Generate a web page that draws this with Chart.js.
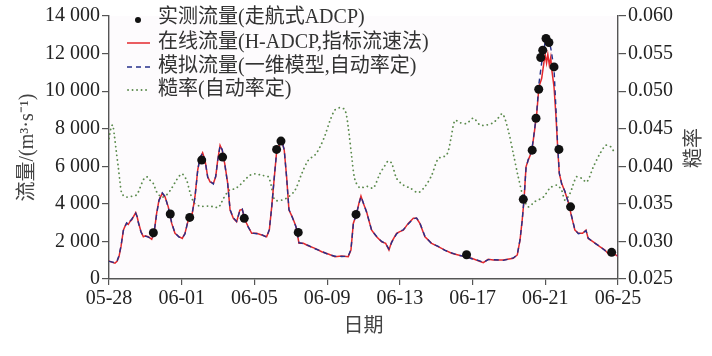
<!DOCTYPE html>
<html>
<head>
<meta charset="utf-8">
<script src="https://cdn.jsdelivr.net/npm/chart.js@4.4.1/dist/chart.umd.min.js"></script>
<style>
  html, body { margin: 0; padding: 0; background: #fff; }
  #c { display: block; }
</style>
</head>
<body>
<canvas id="c" width="712" height="356"></canvas>
<script>
// x values are days counted from 05-28
const dateLabels = ['05-28', '06-01', '06-05', '06-09', '06-13', '06-17', '06-21', '06-25'];

// online flow (H-ADCP) and model flow share the same time steps
const flowDays = [
  0, 0.15, 0.33, 0.45, 0.55, 0.66, 0.79, 0.9, 0.97, 1.06,
  1.15, 1.25, 1.34, 1.47, 1.55, 1.61, 1.76, 1.89, 2.0, 2.16,
  2.35, 2.42, 2.49, 2.62, 2.75, 2.93, 3.08, 3.26, 3.45, 3.63,
  3.85, 4.03, 4.18, 4.36, 4.58, 4.73, 4.88, 5.0, 5.15, 5.28,
  5.43, 5.56, 5.74, 5.87, 5.98, 6.11, 6.23, 6.38, 6.53, 6.66,
  6.84, 7.02, 7.2, 7.33, 7.48, 7.66, 7.85, 8.12, 8.4, 8.67,
  8.82, 8.95, 9.08, 9.22, 9.37, 9.5, 9.64, 9.77, 9.9, 10.08,
  10.29, 10.45, 10.69, 10.96, 11.33, 11.7, 12.06, 12.43, 12.8, 13.16,
  13.31, 13.44, 13.62, 13.75, 13.86, 13.99, 14.17, 14.3, 14.45, 14.72,
  15.0, 15.22, 15.4, 15.55, 15.82, 16.0, 16.19, 16.46, 16.74, 16.92,
  17.1, 17.38, 17.75, 18.11, 18.48, 18.85, 19.21, 19.58, 19.95, 20.31,
  20.59, 20.86, 21.14, 21.69, 22.24, 22.46, 22.61, 22.73, 22.83, 22.94,
  23.06, 23.25, 23.39, 23.53, 23.65, 23.8, 23.93, 24.0, 24.07, 24.14,
  24.22, 24.3, 24.35, 24.48, 24.59, 24.68, 24.77, 24.9, 25.08, 25.26,
  25.45, 25.63, 25.82, 26.05, 26.24, 26.36, 26.64, 27.0, 27.28, 27.52,
  27.74, 27.98
];
const onlineFlow = [
  960, 900, 840, 950, 1200, 1720, 2600, 2850, 2960, 2900,
  3050, 3150, 3310, 3530, 3300, 3050, 2520, 2250, 2300, 2250,
  2110, 2300, 2520, 3490, 4200, 4560, 4380, 3840, 2960, 2430,
  2250, 2160, 2430, 3140, 3490, 4380, 5800, 6420, 6720, 6330,
  5440, 5170, 5090, 5440, 6330, 7120, 6860, 6060, 5090, 3670,
  3230, 3050, 3670, 3700, 3140, 2780, 2430, 2430, 2340, 2250,
  2600, 3840, 5260, 6770, 7120, 7390, 6860, 5440, 3670, 3310,
  2780, 1900, 1900, 1770, 1630, 1450, 1330, 1190, 1220, 1190,
  1540, 2960, 3490, 4030, 4410, 4030, 3580, 3100, 2600, 2250,
  1980, 1900, 1540, 1980, 2430, 2520, 2600, 2960, 3230, 3230,
  2960, 2250, 1900, 1720, 1540, 1370, 1280, 1190, 1100, 975,
  870, 1050, 1010, 1010, 1100, 1280, 2070, 3140, 4200, 5970,
  6330, 6770, 7750, 8810, 10230, 10670, 11560, 11900, 11500, 11950,
  11400, 11800, 11200, 10230, 8630, 7030, 5620, 5090, 4640, 4110,
  3310, 2600, 2430, 2430, 2600, 2160, 1980, 1720, 1540, 1280,
  1370, 1220
];
const modelFlow = [
  940, 910, 860, 980, 1250, 1760, 2580, 2820, 2990, 2920,
  3080, 3180, 3330, 3500, 3320, 3020, 2500, 2270, 2280, 2230,
  2130, 2280, 2560, 3450, 4180, 4580, 4400, 3800, 2990, 2450,
  2230, 2180, 2400, 3170, 3520, 4350, 5780, 6450, 6700, 6350,
  5410, 5200, 5060, 5470, 6300, 7100, 6880, 6030, 5050, 3700,
  3250, 3070, 3640, 3720, 3160, 2760, 2450, 2410, 2360, 2230,
  2640, 3800, 5300, 6740, 7150, 7360, 6880, 5400, 3700, 3290,
  2760, 1930, 1880, 1790, 1610, 1470, 1310, 1210, 1200, 1210,
  1580, 2920, 3510, 4000, 4380, 4060, 3550, 3120, 2580, 2270,
  2000, 1880, 1600, 1950, 2400, 2540, 2620, 2930, 3200, 3250,
  2990, 2270, 1880, 1740, 1520, 1390, 1260, 1210, 1080, 990,
  890, 1030, 1030, 990, 1120, 1300, 2100, 3100, 4250, 5900,
  6350, 6800, 7800, 8900, 10400, 11500, 12200, 12700, 12800, 12750,
  12550, 12300, 12000, 11200, 9000, 7150, 5650, 5060, 4670, 4090,
  3340, 2620, 2410, 2450, 2570, 2180, 1960, 1740, 1520, 1300,
  1340, 1240
];

// measured flow, moving-boat ADCP
const measDays = [2.44, 3.37, 4.44, 5.1, 6.25, 7.44, 9.22, 9.46, 10.41, 13.59, 19.67,
  22.79, 23.28, 23.49, 23.64, 23.75, 23.86, 24.04, 24.2, 24.48, 24.75, 25.39, 27.65];
const measFlow = [2460, 3460, 3280, 6330, 6490, 3230, 6900, 7340, 2480, 3440, 1290,
  4240, 6860, 8560, 10100, 11790, 12180, 12800, 12590, 11290, 6900, 3840, 1420];

// roughness (right axis)
const roughDays = [
  0, 0.1, 0.2, 0.3, 0.4, 0.51, 0.6, 0.7, 0.85, 0.97,
  1.25, 1.52, 1.7, 1.89, 2.05, 2.16, 2.3, 2.44, 2.62, 2.9,
  3.17, 3.45, 3.72, 3.9, 4.03, 4.15, 4.27, 4.45, 4.69, 5.0,
  5.46, 5.8, 6.01, 6.15, 6.29, 6.5, 6.66, 6.93, 7.2, 7.48,
  7.75, 8.03, 8.4, 8.76, 8.98, 9.13, 9.5, 9.86, 10.23, 10.6,
  10.96, 11.33, 11.61, 11.88, 12.16, 12.43, 12.71, 12.98, 13.16, 13.35,
  13.53, 13.81, 14.08, 14.26, 14.54, 14.9, 15.18, 15.36, 15.55, 15.82,
  16.19, 16.56, 17.01, 17.38, 17.75, 18.11, 18.57, 18.81, 19.03, 19.31,
  19.67, 20.04, 20.41, 20.77, 21.14, 21.4, 21.65, 21.96, 22.24, 22.51,
  22.79, 23.06, 23.43, 23.89, 24.26, 24.63, 24.9, 25.08, 25.36, 25.72,
  26.0, 26.28, 26.64, 27.01, 27.34, 27.6, 27.83
];
const roughness = [
  0.0437, 0.0450, 0.0455, 0.0440, 0.0420, 0.0399, 0.0380, 0.0364, 0.0360, 0.0359,
  0.0360, 0.0362, 0.0371, 0.0382, 0.0386, 0.0385, 0.0380, 0.0377, 0.0366, 0.0359,
  0.0362, 0.0371, 0.0382, 0.0388, 0.0390, 0.0386, 0.0382, 0.0366, 0.0351, 0.0347,
  0.0347, 0.0346, 0.0345, 0.0350, 0.0357, 0.0365, 0.0369, 0.0370, 0.0375, 0.0382,
  0.0388, 0.0390, 0.0388, 0.0386, 0.0368, 0.0355, 0.0355, 0.0359, 0.0368, 0.0390,
  0.0408, 0.0415, 0.0426, 0.0441, 0.0461, 0.0475, 0.0478, 0.0475, 0.0452, 0.0413,
  0.0382, 0.0371, 0.0373, 0.0373, 0.0371, 0.0390, 0.0401, 0.0407, 0.0404, 0.0384,
  0.0375, 0.0371, 0.0365, 0.0373, 0.0388, 0.0410, 0.0415, 0.0437, 0.0461, 0.0458,
  0.0457, 0.0464, 0.0455, 0.0455, 0.0458, 0.0464, 0.0470, 0.0448, 0.0417, 0.0386,
  0.0359, 0.0346, 0.0353, 0.0359, 0.0371, 0.0375, 0.0368, 0.0355, 0.0364, 0.0386,
  0.0384, 0.0379, 0.0399, 0.0417, 0.0428, 0.0426, 0.0417
];

const legendNames = ['实测流量(走航式ADCP)', '在线流量(H-ADCP,指标流速法)', '模拟流量(一维模型,自动率定)', '糙率(自动率定)'];

const serif = '"Liberation Serif", "Noto Sans CJK SC", serif';
const axisColor = '#555';
const red = '#e3282c';
const blue = '#26308a';
const green = '#5a8a4c';

function pts(xs, ys) {
  return xs.map((x, i) => ({ x: x, y: ys[i] }));
}

const bgPlugin = {
  id: 'bg',
  beforeDraw(chart) {
    const { ctx, chartArea: a } = chart;
    ctx.save();
    ctx.fillStyle = '#fff';
    ctx.fillRect(0, 0, chart.width, chart.height);
    ctx.fillStyle = '#fdfbfd';
    ctx.fillRect(a.left, a.top, a.right - a.left, a.bottom - a.top);
    ctx.restore();
  }
};

// legend box in the upper left and the right axis title
const legendPlugin = {
  id: 'boxLegend',
  afterDraw(chart) {
    const ctx = chart.ctx;
    const rows = [18, 43, 67, 90];
    ctx.save();
    // dot
    ctx.fillStyle = '#111';
    ctx.beginPath();
    ctx.arc(138, rows[0] + 2, 3, 0, Math.PI * 2);
    ctx.fill();
    // red line
    ctx.strokeStyle = red;
    ctx.lineWidth = 1.5;
    ctx.beginPath(); ctx.moveTo(127, rows[1]); ctx.lineTo(150, rows[1]); ctx.stroke();
    // blue dash
    ctx.strokeStyle = blue;
    ctx.setLineDash([5, 4]);
    ctx.beginPath(); ctx.moveTo(127, rows[2]); ctx.lineTo(150, rows[2]); ctx.stroke();
    // green dots
    ctx.strokeStyle = green;
    ctx.lineWidth = 1.8;
    ctx.lineCap = 'round';
    ctx.setLineDash([0.1, 4.4]);
    ctx.beginPath(); ctx.moveTo(128, rows[3]); ctx.lineTo(150, rows[3]); ctx.stroke();
    ctx.setLineDash([]);

    ctx.fillStyle = '#333';
    ctx.font = '20px ' + serif;
    ctx.textBaseline = 'middle';
    ctx.textAlign = 'left';
    legendNames.forEach((t, i) => ctx.fillText(t, 158, rows[i]));

    // right axis title, reads bottom to top
    ctx.fillStyle = '#444';
    ctx.translate(695, 148);
    ctx.rotate(-Math.PI / 2);
    ctx.textAlign = 'center';
    ctx.fillText('糙率', 0, 0);
    ctx.restore();
  }
};

function thousands(v) {
  if (v === 0) return '0';
  return Math.floor(v / 1000) + ' 000';
}

new Chart(document.getElementById('c'), {
  type: 'scatter',
  data: {
    datasets: [
      {
        label: legendNames[0],
        data: pts(measDays, measFlow),
        yAxisID: 'y',
        showLine: false,
        pointRadius: 4.5,
        pointBackgroundColor: '#111',
        pointBorderWidth: 0,
        order: 0
      },
      {
        label: legendNames[2],
        data: pts(flowDays, modelFlow),
        yAxisID: 'y',
        showLine: true,
        pointRadius: 0,
        borderColor: blue,
        borderWidth: 1.4,
        borderDash: [5, 4],
        order: 1
      },
      {
        label: legendNames[1],
        data: pts(flowDays, onlineFlow),
        yAxisID: 'y',
        showLine: true,
        pointRadius: 0,
        borderColor: red,
        borderWidth: 1.5,
        order: 2
      },
      {
        label: legendNames[3],
        data: pts(roughDays, roughness),
        yAxisID: 'y2',
        showLine: true,
        pointRadius: 0,
        borderColor: green,
        borderWidth: 1.8,
        borderDash: [0.1, 4.4],
        borderCapStyle: 'round',
        tension: 0.3,
        order: 3
      }
    ]
  },
  options: {
    responsive: false,
    animation: false,
    devicePixelRatio: 1,
    layout: { padding: { top: 16, left: 0, right: 0, bottom: 0 } },
    plugins: { legend: { display: false }, tooltip: { enabled: false } },
    scales: {
      x: {
        type: 'linear',
        min: 0, max: 28,
        afterFit: s => { s.height = 77; },
        ticks: {
          stepSize: 4,
          padding: 2,
          color: '#222',
          font: { family: serif, size: 20 },
          maxRotation: 0,
          callback: v => dateLabels[Math.round(v / 4)]
        },
        grid: { drawOnChartArea: false, tickLength: 6, color: axisColor, lineWidth: 1.2 },
        border: { color: axisColor, width: 1.4 },
        title: {
          display: true, text: '日期', color: '#444',
          font: { family: serif, size: 20 },
          padding: { bottom: 17, top: 0 }
        }
      },
      y: {
        position: 'left',
        min: 0, max: 14000,
        afterFit: s => { s.width = 109; },
        ticks: {
          stepSize: 2000,
          padding: 2,
          color: '#222',
          font: { family: serif, size: 20 },
          callback: thousands
        },
        grid: { drawOnChartArea: false, tickLength: 7, color: axisColor, lineWidth: 1.2 },
        border: { color: axisColor, width: 1.4 },
        title: {
          display: true, text: '流量/(m³·s⁻¹)', color: '#444',
          font: { family: serif, size: 20 },
          padding: { top: 16, bottom: 0 }
        }
      },
      y2: {
        position: 'right',
        min: 0.025, max: 0.060,
        afterFit: s => { s.width = 94; },
        ticks: {
          stepSize: 0.005,
          padding: 2,
          color: '#222',
          font: { family: serif, size: 20 },
          callback: v => v.toFixed(3)
        },
        grid: { drawOnChartArea: false, tickLength: 8, color: axisColor, lineWidth: 1.2 },
        border: { color: axisColor, width: 1.4 }
      }
    }
  },
  plugins: [bgPlugin, legendPlugin]
});
</script>
</body>
</html>
